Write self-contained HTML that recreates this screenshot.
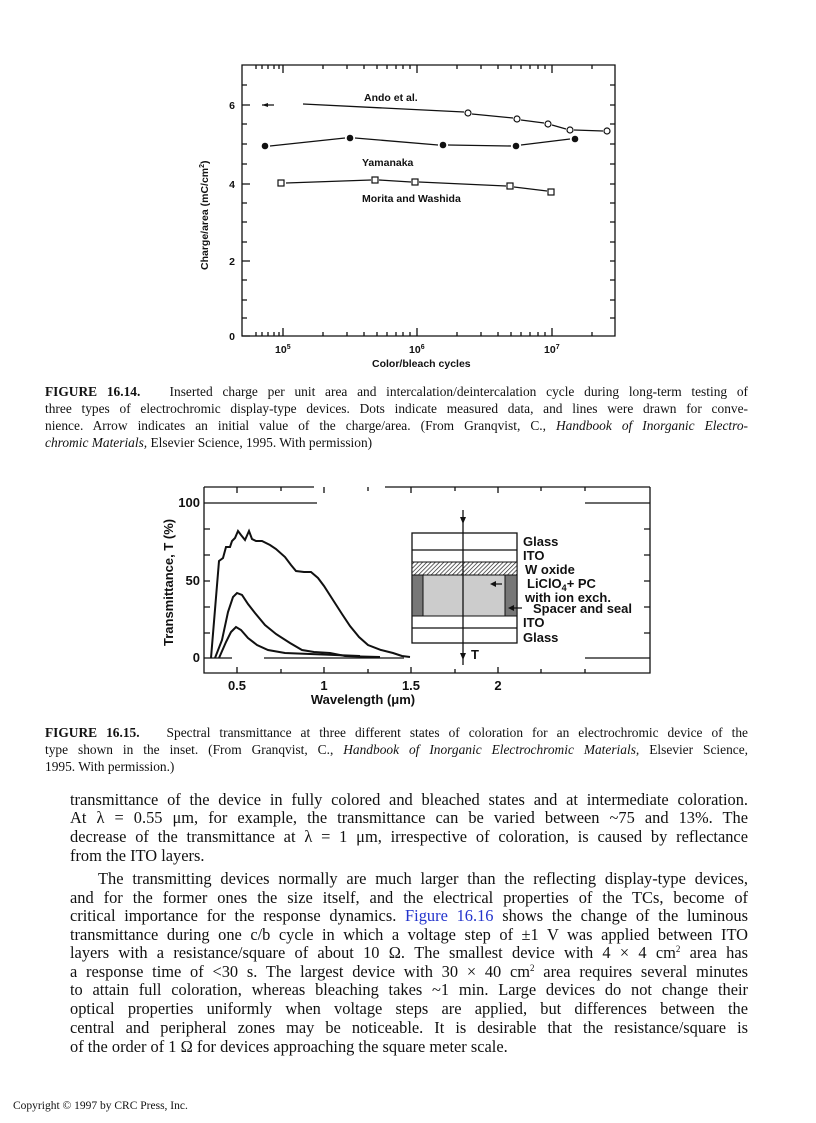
<!DOCTYPE html>
<html><head><meta charset="utf-8"><style>
body{margin:0;width:816px;height:1123px;background:#fff;position:relative;overflow:hidden;font-family:"Liberation Serif",serif;color:#111}
.c{position:absolute;left:45px;width:703px;font-size:13.4px;line-height:17px;text-align:justify;text-align-last:justify;white-space:nowrap}
.b{position:absolute;left:70px;width:678px;font-size:16.4px;line-height:18px;text-align:justify;text-align-last:justify;white-space:nowrap}
.l{text-align-last:left}
.i{text-indent:28px;left:70px}
sup{font-size:9px;line-height:0;vertical-align:6px}
svg text{font-family:"Liberation Sans",sans-serif;font-weight:bold;fill:#111}
a{color:#2233cc;text-decoration:none}
</style></head><body>
<svg width="816" height="720" style="position:absolute;left:0;top:0">
<g stroke="#111" stroke-width="1.3" fill="none">
<path d="M242 65V336H615V65Z"/>
<path d="M242 105h8M242 184h8M242 261h8M242 336h8M242 85h5M242 124h5M242 144h5M242 164h5M242 203h5M242 222h5M242 242h5M242 280h5M242 300h5M242 318h5M615 85h-5M615 105h-5M615 124h-5M615 144h-5M615 164h-5M615 184h-5M615 203h-5M615 222h-5M615 242h-5M615 261h-5M615 280h-5M615 300h-5M615 318h-5"/>
<path d="M283 336v-8M417 336v-8M552 336v-8M256 336v-4M262 336v-4M268 336v-4M274 336v-4M279 336v-4M323 336v-4M347 336v-4M364 336v-4M377 336v-4M387 336v-4M396 336v-4M403 336v-4M410 336v-4M457 336v-4M481 336v-4M498 336v-4M511 336v-4M521 336v-4M530 336v-4M538 336v-4M545 336v-4M592 336v-4M283 65v8M417 65v8M552 65v8M256 65v4M262 65v4M268 65v4M274 65v4M279 65v4M323 65v4M347 65v4M364 65v4M377 65v4M387 65v4M396 65v4M403 65v4M410 65v4M457 65v4M481 65v4M498 65v4M511 65v4M521 65v4M530 65v4M538 65v4M545 65v4M592 65v4"/>
<path d="M262 105h12M303 104L464 112M472 114L513 118M521 120L544 123M552 125L566 129M574 130L603 131"/>
<path d="M270 146L345 138M355 138L438 145M448 145L511 146M521 145L570 139"/>
<path d="M286 183L371 180M379 180L411 182M419 182L506 186M514 187L547 191"/>
</g>
<path d="M262 105l6-2v4z" fill="#111"/>
<g stroke="#111" stroke-width="1.2" fill="#fff">
<circle cx="468" cy="113" r="3"/><circle cx="517" cy="119" r="3"/><circle cx="548" cy="124" r="3"/><circle cx="570" cy="130" r="3"/><circle cx="607" cy="131" r="3"/>
<rect x="278" y="180" width="6" height="6"/><rect x="372" y="177" width="6" height="6"/><rect x="412" y="179" width="6" height="6"/><rect x="507" y="183" width="6" height="6"/><rect x="548" y="189" width="6" height="6"/>
</g>
<g fill="#111"><circle cx="265" cy="146" r="3.3"/><circle cx="350" cy="138" r="3.3"/><circle cx="443" cy="145" r="3.3"/><circle cx="516" cy="146" r="3.3"/><circle cx="575" cy="139" r="3.3"/></g>
<g font-size="10.5">
<text x="364" y="101">Ando et al.</text>
<text x="362" y="166">Yamanaka</text>
<text x="362" y="202">Morita and Washida</text>
<text x="235" y="109" text-anchor="end">6</text><text x="235" y="188" text-anchor="end">4</text><text x="235" y="265" text-anchor="end">2</text><text x="235" y="340" text-anchor="end">0</text>
<text x="275" y="353">10<tspan font-size="7" dy="-4">5</tspan></text>
<text x="409" y="353">10<tspan font-size="7" dy="-4">6</tspan></text>
<text x="544" y="353">10<tspan font-size="7" dy="-4">7</tspan></text>
<text x="372" y="367">Color/bleach cycles</text>
<text transform="translate(208,270) rotate(-90)">Charge/area (mC/cm<tspan font-size="7" dy="-4">2</tspan><tspan dy="4">)</tspan></text>
</g>

<g stroke="#111" stroke-width="1.3" fill="none">
<path d="M204 487V673H650V487"/>
<path d="M204 487h110M204 503h113M204 658h28M264 658h140M385 487h265M585 503h65M585 658h65"/>
<path d="M204 529h6M204 555h6M204 581h6M204 607h6M204 633h6M650 529h-6M650 555h-6M650 581h-6M650 607h-6M650 633h-6"/>
<path d="M237 673v-6M281 673v-4M324 673v-6M368 673v-4M411 673v-6M455 673v-4M498 673v-6M541 673v-4M585 673v-4M237 487v6M281 487v4M324 487v6M368 487v4M411 487v6M455 487v4M498 487v6M541 487v4M585 487v4"/>
<path stroke-width="2" d="M211 658L219 561L223 558L226 547L230 547L232 541L235 538L238 531L241 535L245 540L249 531L252 539L256 541L262 541L270 545L276 549L285 557L291 565L296 571L304 572L311 572L318 578L324 586L333 600L342 614L350 626L359 637L368 645L381 650L393 653L402 656L410 657"/>
<path stroke-width="2" d="M215 658L222 640L228 612L233 597L237 593L242 595L248 604L255 613L265 625L276 634L290 643L302 650L314 652L330 653L345 656L360 656.5L380 657"/>
<path stroke-width="2" d="M219 658L226 642L231 632L236 627L241 630L248 638L257 645L268 650L285 653L310 654L335 655L360 656"/>
<rect x="412" y="533" width="105" height="110"/>
<path d="M412 550h105M412 628h105"/>
</g>
<defs><pattern id="h" width="3" height="3" patternUnits="userSpaceOnUse" patternTransform="rotate(45)"><rect width="3" height="3" fill="#fff"/><path d="M0 0V3" stroke="#222" stroke-width="1.4"/></pattern></defs>
<rect x="412" y="562" width="105" height="13" fill="url(#h)" stroke="#111"/>
<rect x="412" y="575" width="105" height="41" fill="#ccc" stroke="#111"/>
<rect x="412" y="575" width="11" height="41" fill="#777" stroke="#111"/>
<rect x="505" y="575" width="12" height="41" fill="#777" stroke="#111"/>
<g stroke="#111" stroke-width="1.3"><path d="M463 510V665M492 584h10M510 608h12"/></g>
<path d="M463 524l-3-7h6zM463 660l-3-7h6zM490 584l6-3v6zM508 608l6-3v6z" fill="#111"/>
<g font-size="13">
<text x="523" y="546">Glass</text><text x="523" y="560">ITO</text><text x="525" y="574">W oxide</text>
<text x="527" y="588">LiClO<tspan font-size="9" dy="3">4</tspan><tspan dy="-3">+ PC</tspan></text>
<text x="525" y="602">with ion exch.</text><text x="533" y="613">Spacer and seal</text>
<text x="523" y="627">ITO</text><text x="523" y="642">Glass</text><text x="471" y="659">T</text>
<text x="200" y="507" text-anchor="end">100</text><text x="200" y="585" text-anchor="end">50</text><text x="200" y="662" text-anchor="end">0</text>
<text x="237" y="690" text-anchor="middle">0.5</text><text x="324" y="690" text-anchor="middle">1</text><text x="411" y="690" text-anchor="middle">1.5</text><text x="498" y="690" text-anchor="middle">2</text>
<text x="363" y="704" text-anchor="middle">Wavelength (μm)</text>
<text transform="translate(173,646) rotate(-90)">Transmittance, T (%)</text>
</g>
</svg>

<div class="c" style="top:383px"><b>FIGURE 16.14.</b>&nbsp;&nbsp; Inserted charge per unit area and intercalation/deintercalation cycle during long-term testing of</div>
<div class="c" style="top:400px">three types of electrochromic display-type devices. Dots indicate measured data, and lines were drawn for conve-</div>
<div class="c" style="top:417px">nience. Arrow indicates an initial value of the charge/area. (From Granqvist, C., <i>Handbook of Inorganic Electro-</i></div>
<div class="c l" style="top:434px"><i>chromic Materials,</i> Elsevier Science, 1995. With permission)</div>

<div class="c" style="top:724px"><b>FIGURE 16.15.</b>&nbsp;&nbsp; Spectral transmittance at three different states of coloration for an electrochromic device of the</div>
<div class="c" style="top:741px">type shown in the inset. (From Granqvist, C., <i>Handbook of Inorganic Electrochromic Materials,</i> Elsevier Science,</div>
<div class="c l" style="top:758px">1995. With permission.)</div>

<div class="b" style="top:791px">transmittance of the device in fully colored and bleached states and at intermediate coloration.</div>
<div class="b" style="top:809px">At λ = 0.55 μm, for example, the transmittance can be varied between ~75 and 13%. The</div>
<div class="b" style="top:828px">decrease of the transmittance at λ = 1 μm, irrespective of coloration, is caused by reflectance</div>
<div class="b l" style="top:847px">from the ITO layers.</div>
<div class="b i" style="top:870px">The transmitting devices normally are much larger than the reflecting display-type devices,</div>
<div class="b" style="top:889px">and for the former ones the size itself, and the electrical properties of the TCs, become of</div>
<div class="b" style="top:907px">critical importance for the response dynamics. <a>Figure 16.16</a> shows the change of the luminous</div>
<div class="b" style="top:926px">transmittance during one c/b cycle in which a voltage step of ±1 V was applied between ITO</div>
<div class="b" style="top:944px">layers with a resistance/square of about 10 Ω. The smallest device with 4 × 4 cm<sup>2</sup> area has</div>
<div class="b" style="top:963px">a response time of &lt;30 s. The largest device with 30 × 40 cm<sup>2</sup> area requires several minutes</div>
<div class="b" style="top:981px">to attain full coloration, whereas bleaching takes ~1 min. Large devices do not change their</div>
<div class="b" style="top:1000px">optical properties uniformly when voltage steps are applied, but differences between the</div>
<div class="b" style="top:1019px">central and peripheral zones may be noticeable. It is desirable that the resistance/square is</div>
<div class="b l" style="top:1038px">of the order of 1 Ω for devices approaching the square meter scale.</div>

<div style="position:absolute;left:13px;top:1100px;font-size:11.5px">Copyright © 1997 by CRC Press, Inc.</div>
</body></html>
